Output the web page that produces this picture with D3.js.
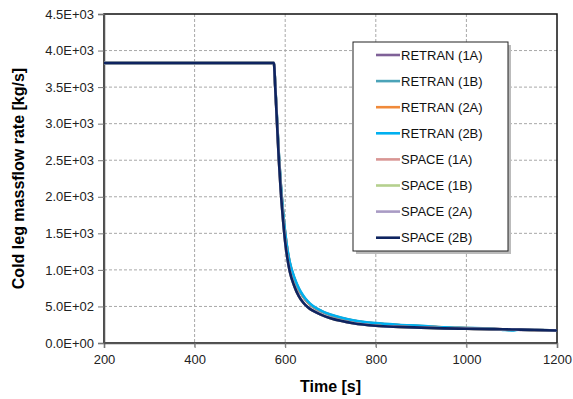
<!DOCTYPE html>
<html>
<head>
<meta charset="utf-8">
<script src="https://cdn.jsdelivr.net/npm/d3@7"></script>
<style>
  body { margin: 0; background: #fff; }
  text { font-family: "Liberation Sans", Arial, sans-serif; }
</style>
</head>
<body>
<svg id="chart" width="573" height="399"></svg>
<script>
// time axis [s]
const times = [200, 575, 578, 582, 586, 590, 595, 600, 605, 610, 620, 630, 640, 650, 660, 680, 700, 725, 750, 800, 850, 900, 950, 1000, 1050, 1080, 1100, 1120, 1150, 1200];

// cold leg massflow rate [kg/s]
const retran1A = [3830, 3830, 3515, 3040, 2560, 2180, 1800, 1490, 1260, 1090, 880, 730, 630, 555, 500, 430, 380, 338, 305, 265, 243, 228, 212, 202, 193, 186, 182, 180, 177, 170];
const retran1B = [3830, 3830, 3517, 3045, 2565, 2185, 1805, 1495, 1265, 1095, 885, 735, 633, 558, 503, 433, 383, 340, 307, 267, 245, 230, 213, 203, 194, 185, 180, 182, 178, 171];
const retran2A = [3830, 3830, 3520, 3050, 2570, 2190, 1810, 1500, 1270, 1100, 890, 740, 636, 561, 506, 436, 386, 342, 309, 269, 247, 232, 214, 204, 195, 183, 178, 184, 180, 171];
const retran2B = [3830, 3830, 3525, 3060, 2580, 2200, 1820, 1510, 1280, 1110, 900, 750, 645, 568, 512, 440, 390, 345, 312, 272, 250, 235, 216, 206, 196, 180, 172, 186, 182, 172];
const space1A = [3830, 3830, 3500, 3000, 2500, 2100, 1700, 1380, 1150, 980, 780, 640, 550, 490, 445, 385, 340, 300, 270, 235, 220, 210, 200, 195, 190, 188, 185, 183, 178, 170];
const space1B = [3830, 3830, 3500, 3000, 2500, 2100, 1700, 1380, 1150, 980, 780, 640, 550, 490, 445, 385, 340, 300, 270, 235, 220, 210, 200, 195, 190, 188, 185, 183, 178, 170];
const space2A = [3830, 3830, 3502, 3004, 2505, 2104, 1704, 1384, 1153, 983, 783, 643, 552, 492, 447, 387, 342, 302, 272, 237, 222, 212, 202, 196, 191, 189, 186, 184, 179, 171];
const space2B = [3830, 3830, 3500, 3000, 2500, 2100, 1700, 1380, 1150, 980, 780, 640, 550, 490, 445, 385, 340, 300, 270, 235, 220, 210, 200, 195, 190, 188, 185, 183, 178, 170];

const seriesNames = ["RETRAN (1A)", "RETRAN (1B)", "RETRAN (2A)", "RETRAN (2B)", "SPACE (1A)", "SPACE (1B)", "SPACE (2A)", "SPACE (2B)"];
const seriesValues = [retran1A, retran1B, retran2A, retran2B, space1A, space1B, space2A, space2B];
const seriesColors = ["#7F6198", "#4BA3B8", "#F08A3A", "#00B0F0", "#D99694", "#B5D08E", "#A99BC4", "#0E2460"];

const xTicks = [200, 400, 600, 800, 1000, 1200];
const yTicks = [0, 500, 1000, 1500, 2000, 2500, 3000, 3500, 4000, 4500];

const margin = { top: 14, right: 16, bottom: 56, left: 104 };
const width = 573, height = 399;

const svg = d3.select("#chart");
svg.append("rect").attr("width", width).attr("height", height).attr("fill", "#fff");

const x = d3.scaleLinear().domain([200, 1200]).range([margin.left, width - margin.right]);
const y = d3.scaleLinear().domain([0, 4500]).range([height - margin.bottom, margin.top]);

// grid
const grid = svg.append("g");
grid.selectAll(".gx")
  .data(xTicks.slice(1, -1))
  .join("line")
  .attr("x1", d => x(d)).attr("x2", d => x(d))
  .attr("y1", y(4500)).attr("y2", y(0) + 5)
  .attr("stroke", "#a8a8a8").attr("stroke-dasharray", "3,2");
grid.selectAll(".gy")
  .data(yTicks.slice(1, -1))
  .join("line")
  .attr("x1", x(200)).attr("x2", x(1200))
  .attr("y1", d => y(d)).attr("y2", d => y(d))
  .attr("stroke", "#a8a8a8").attr("stroke-dasharray", "3,2");

// frame
svg.append("rect")
  .attr("x", x(200)).attr("y", y(4500))
  .attr("width", x(1200) - x(200)).attr("height", y(0) - y(4500))
  .attr("fill", "none").attr("stroke", "#111").attr("stroke-width", 1.5);

// axes
const xAxis = svg.append("g")
  .attr("transform", `translate(0,${y(0)})`)
  .call(d3.axisBottom(x).tickValues(xTicks).tickSize(5).tickPadding(7).tickFormat(d3.format("d")));
const yAxis = svg.append("g")
  .attr("transform", `translate(${x(200)},0)`)
  .call(d3.axisLeft(y).tickValues(yTicks).tickSize(6).tickPadding(4)
    .tickFormat(d => d === 0 ? "0.0E+00" : d3.format(".1e")(d).replace(/e\+(\d)$/, "E+0$1")));
[xAxis, yAxis].forEach(a => {
  a.select(".domain").attr("stroke", "#555").attr("stroke-width", 1.5);
  a.selectAll(".tick line").attr("stroke", "#777");
  a.selectAll("text").attr("font-size", 13).attr("fill", "#222")
    .attr("font-family", "Liberation Sans, Arial, sans-serif");
});

// lines
const line = d3.line()
  .x((d, i) => x(times[i]))
  .y(d => y(d))
  .curve(d3.curveMonotoneX);
svg.append("g")
  .selectAll("path")
  .data(seriesValues)
  .join("path")
  .attr("d", d => line(d))
  .attr("fill", "none")
  .attr("stroke", (d, i) => seriesColors[i])
  .attr("stroke-width", 2.6)
  .attr("stroke-linejoin", "round");

// legend
const lg = svg.append("g").attr("transform", "translate(353,42)");
lg.append("rect").attr("x", 3).attr("y", 3).attr("width", 155).attr("height", 209).attr("fill", "#bbb");
lg.append("rect").attr("width", 155).attr("height", 209).attr("fill", "#fff").attr("stroke", "#222").attr("stroke-width", 1);
const items = lg.selectAll(".item")
  .data(seriesNames)
  .join("g")
  .attr("transform", (d, i) => `translate(0,${13 + i * 26.1})`);
items.append("line")
  .attr("x1", 23).attr("x2", 47)
  .attr("stroke", (d, i) => seriesColors[i]).attr("stroke-width", 2.6);
items.append("text")
  .attr("x", 48).attr("dy", "0.35em")
  .attr("font-size", 13).attr("fill", "#111")
  .text(d => d);

// titles
svg.append("text")
  .attr("x", (x(200) + x(1200)) / 2).attr("y", 392)
  .attr("text-anchor", "middle").attr("font-weight", "bold").attr("font-size", 16)
  .text("Time [s]");
svg.append("text")
  .attr("transform", `translate(24,${(y(0) + y(4500)) / 2}) rotate(-90)`)
  .attr("text-anchor", "middle").attr("font-weight", "bold").attr("font-size", 16)
  .text("Cold leg massflow rate [kg/s]");
</script>
</body>
</html>
